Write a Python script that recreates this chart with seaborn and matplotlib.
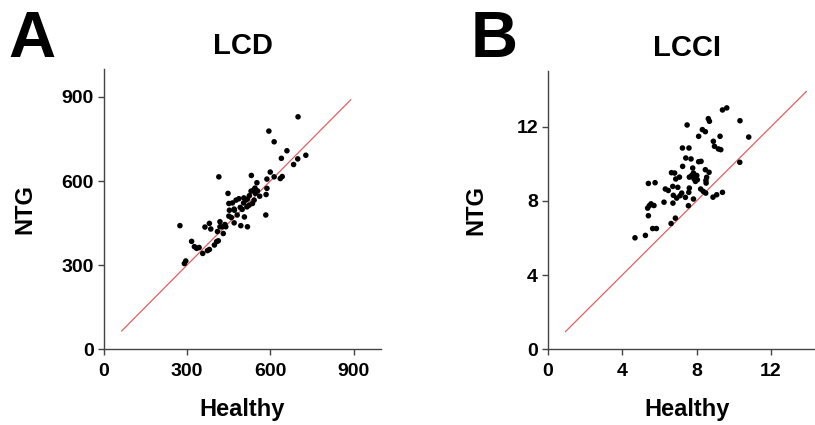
import numpy as np
import pandas as pd
import matplotlib
matplotlib.use("Agg")
import matplotlib.pyplot as plt
import seaborn as sns

# panel A - LCD
lcd_healthy = [275, 291, 296, 317, 327, 335, 344, 357, 365, 374, 381, 381, 386, 399, 407,
               413, 410, 415, 419, 419, 428, 431, 440, 448, 451, 453, 451, 464, 470, 471,
               477, 481, 487, 492, 494, 499, 504, 507, 512, 516, 518, 518, 524, 531, 532,
               536, 540, 546, 552, 554, 562, 542, 584, 585, 588, 588, 595, 600, 614, 614,
               636, 640, 643, 660, 684, 699, 700, 728, 525, 545, 505, 470, 437, 460]
lcd_ntg = [441, 306, 315, 385, 366, 360, 363, 342, 436, 352, 449, 356, 429, 372, 384,
           387, 420, 615, 455, 437, 437, 413, 437, 556, 520, 496, 475, 522, 451, 496,
           532, 479, 537, 506, 441, 499, 522, 472, 532, 508, 536, 437, 514, 564, 620,
           520, 568, 556, 594, 565, 546, 532, 479, 552, 574, 607, 778, 632, 740, 615,
           609, 681, 616, 708, 659, 679, 829, 692, 548, 575, 540, 500, 445, 470]
lcd_line = [65, 890]

# panel B - LCCI
lcci_healthy = [4.69, 5.25, 5.41, 5.41, 5.37, 5.46, 5.55, 5.71, 5.77, 5.64, 5.84, 6.25,
                6.32, 6.48, 6.63, 6.65, 6.72, 6.73, 6.82, 6.86, 6.88, 6.93, 6.99, 7.08,
                7.11, 7.20, 7.24, 7.25, 7.40, 7.42, 7.49, 7.56, 7.58, 7.59, 7.61, 7.61,
                7.70, 7.74, 7.79, 7.83, 7.86, 7.94, 8.01, 8.04, 8.11, 8.11, 8.24, 8.22,
                8.31, 8.36, 8.47, 8.47, 8.51, 8.54, 8.49, 8.63, 8.69, 8.67, 8.88, 8.90,
                8.96, 9.08, 9.17, 9.26, 9.30, 9.39, 9.39, 9.62, 10.33, 10.32, 10.80,
                7.83, 6.75, 8.50]
lcci_ntg = [6.01, 6.14, 7.20, 8.94, 7.61, 7.74, 7.84, 7.75, 8.98, 6.51, 6.51, 7.93,
            8.64, 8.56, 6.78, 9.52, 8.78, 7.88, 9.50, 7.07, 9.18, 8.15, 8.73, 9.28,
            8.28, 8.42, 10.85, 9.86, 8.19, 10.31, 12.09, 7.74, 8.46, 10.85, 9.28, 8.69,
            10.26, 9.37, 9.77, 8.10, 9.19, 9.05, 9.37, 9.14, 11.48, 10.11, 10.13, 8.64,
            11.84, 8.51, 11.73, 9.68, 8.96, 9.27, 8.42, 12.43, 12.29, 9.54, 8.20, 11.21,
            10.94, 8.33, 10.80, 11.48, 10.76, 8.46, 12.90, 13.01, 12.32, 10.08, 11.44,
            9.50, 8.30, 9.10]
lcci_line = [0.95, 13.9]

sns.set_style("ticks")
plt.rcParams['font.family'] = ['Liberation Sans', 'DejaVu Sans']
plt.rcParams['font.weight'] = 'bold'
plt.rcParams['text.color'] = 'black'

fig = plt.figure(figsize=(8.15, 4.25), dpi=100)
ax1 = fig.add_axes([0.127, 0.178, 0.341, 0.66])
ax2 = fig.add_axes([0.672, 0.178, 0.3426, 0.655])

panels = [
    (ax1, lcd_healthy, lcd_ntg, lcd_line, "LCD", (0, 1000), (0, 1000), [0, 300, 600, 900], -0.24),
    (ax2, lcci_healthy, lcci_ntg, lcci_line, "LCCI", (0, 15), (0, 15), [0, 4, 8, 12], -0.217),
]

for ax, hx, ny, line, title, xl, yl, ticks, ylab_x in panels:
    df = pd.DataFrame({'Healthy': hx, 'NTG': ny})
    sns.lineplot(x=line, y=line, color='#e06060', linewidth=0.9, ax=ax)
    sns.scatterplot(data=df, x='Healthy', y='NTG', color='black', s=16,
                    edgecolor='none', ax=ax, zorder=3)
    ax.set_xlim(*xl)
    ax.set_ylim(*yl)
    ax.set_xticks(ticks)
    ax.set_yticks(ticks)
    ax.tick_params(labelsize=14, length=4, width=1, pad=3, color='#444444', labelcolor='black')
    ax.tick_params(axis='x', pad=6)
    for lab in ax.get_xticklabels() + ax.get_yticklabels():
        lab.set_fontweight('bold')
    ax.set_xlabel('Healthy', fontsize=17, fontweight='bold', color='black')
    ax.set_ylabel('NTG', fontsize=17, fontweight='bold', color='black')
    ax.xaxis.set_label_coords(0.5, -0.175)
    ax.yaxis.set_label_coords(ylab_x, 0.5)
    ax.set_title(title, fontsize=21, fontweight='bold', pad=11, color='black')
    for side in ['left', 'bottom']:
        ax.spines[side].set_color('#444444')
        ax.spines[side].set_linewidth(1)
    sns.despine(ax=ax)

fig.text(0.010, 0.866, 'A', fontsize=47, fontweight='bold', va='baseline', color='black')
fig.text(0.577, 0.866, 'B', fontsize=47, fontweight='bold', va='baseline', color='black')

fig.savefig('out.png', dpi=100)
